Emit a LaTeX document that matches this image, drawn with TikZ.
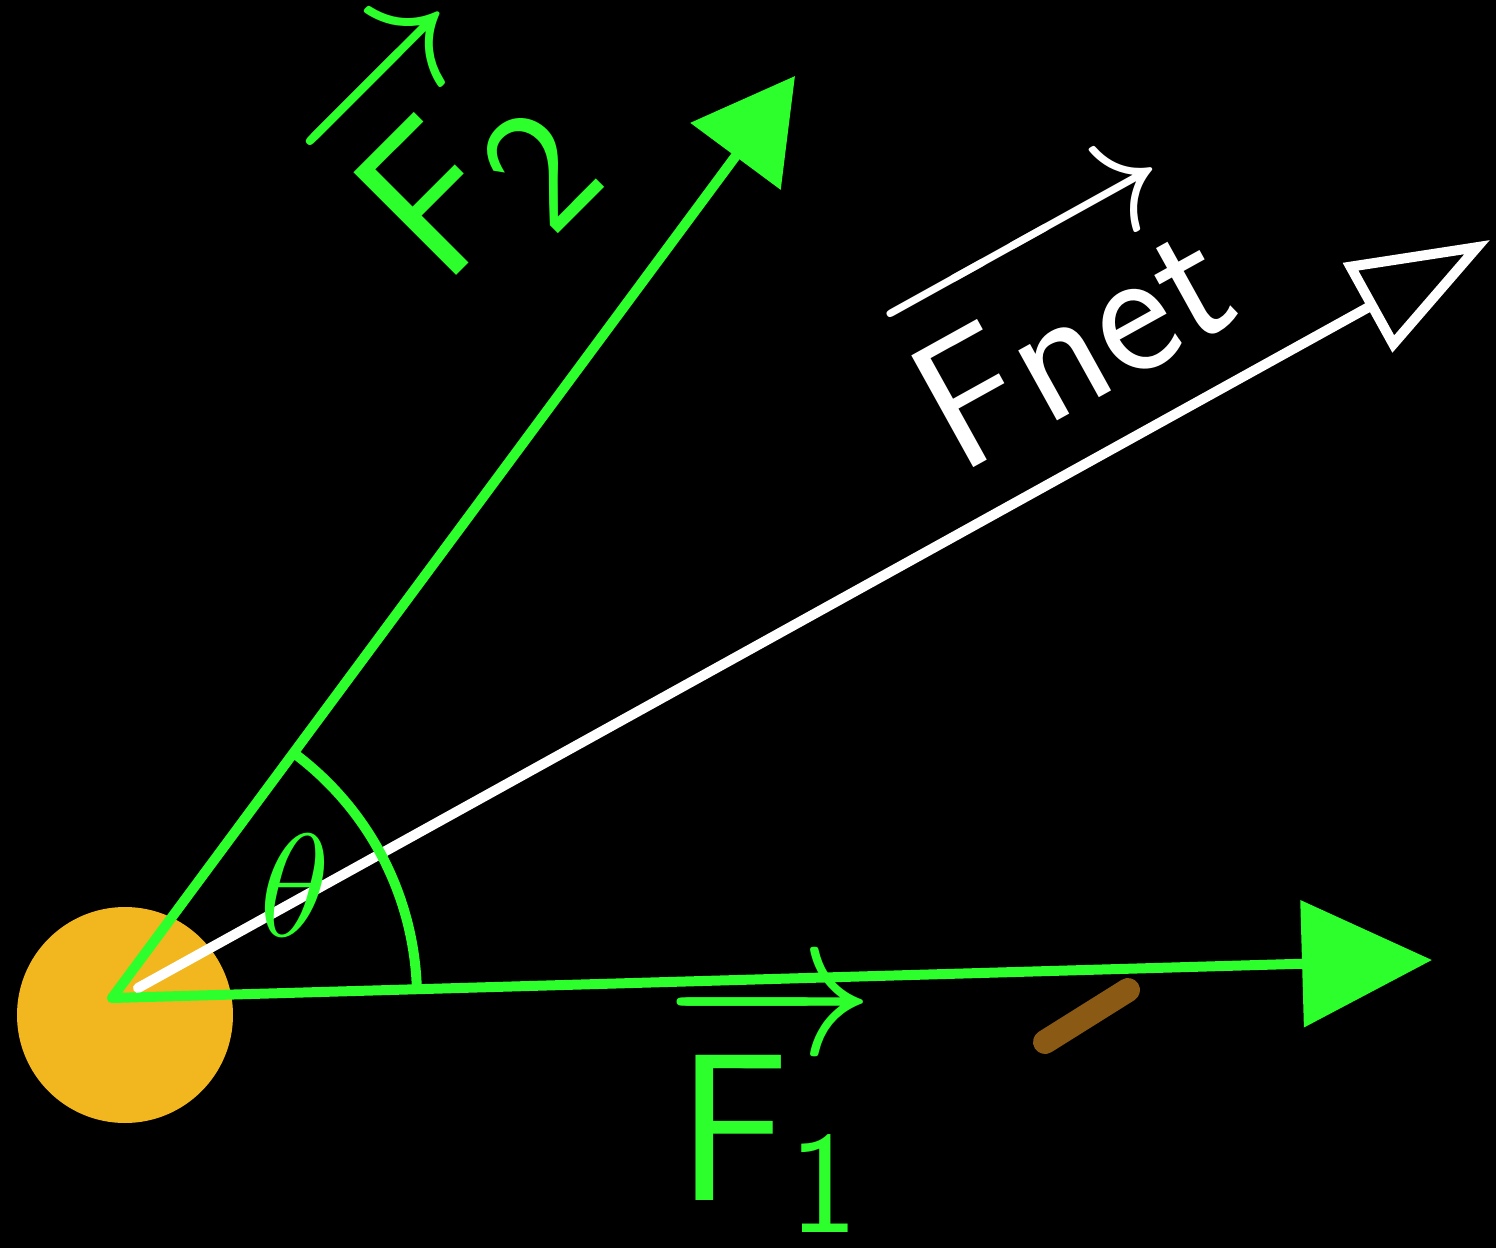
\documentclass[tikz,border=0pt]{standalone}
\usepackage{amsmath}
\usepackage{xcolor}
\definecolor{boardBack}  {HTML}{000000}
\definecolor{chalkGreen} {HTML}{2CFF2C}
\definecolor{ballFill}   {HTML}{F2B71E}
\definecolor{smudge}     {HTML}{8A5A14}
\usetikzlibrary{arrows.meta, calc}
\tikzset{
    ball/.style={circle, fill=ballFill, minimum size=21.6mm, inner sep=0pt},
    force/.style={line width=1mm, chalkGreen, line cap=round},
    netforce/.style={-{Triangle[open, length=14mm, width=10mm]},
                     line width=1mm, white, line cap=round},
    anglearc/.style={line width=1mm, chalkGreen},
    flabel/.style={font=\Huge, scale=2.4, inner sep=0pt,
                   text=chalkGreen},
    smudgeline/.style={line width=2.4mm, smudge, line cap=round},
}
\begin{document}
\begin{tikzpicture}
% --- board ---
\fill[boardBack] (0,0) rectangle (14.96,-12.48);
\useasboundingbox (0,0) rectangle (14.96,-12.48);

% --- body and force tips ---
\node[ball] (ball) at (1.25,-10.15) {};
\coordinate (o)      at (1.12,-9.98);
\coordinate (onet)   at (1.38,-9.88);
\coordinate (f1tip)  at (14.32,-9.60);
\coordinate (f2tip)  at (7.95,-0.76);
\coordinate (nettip) at (14.90,-2.40);

% --- forces ---
\draw[force, -{Triangle[length=13mm, width=12.5mm]}] (o) -- (f1tip);
\draw[force, -{Triangle[length=10mm, width=11mm]}] (o) -- (f2tip);
\draw[netforce] (onet) -- (nettip);

% --- angle between the two forces ---
\draw[anglearc] (o) ++(1.7:3.05) arc[start angle=1.7, end angle=53.5, radius=3.05];
\node[flabel, scale=0.7] (theta) at (2.95,-8.85) {$\theta$};

% --- labels ---
\node[flabel] (f1lbl) at (7.70,-11.05) {$\overrightarrow{\mathsf{F}_{\scriptscriptstyle\mathsf{1}}}$};
\node[flabel, rotate=45] (f2lbl) at (4.50,-1.55) {$\overrightarrow{\mathsf{F}_{\mathsf{2}}}$};
\node[flabel, scale=0.88, text=white, rotate=29] (netlbl) at (10.55,-3.10) {$\overrightarrow{\mathsf{Fnet}}$};

% --- stray mark ---
\coordinate (sm-a) at (10.45,-10.42);
\coordinate (sm-b) at (11.28,-9.90);
\draw[smudgeline] (sm-a) -- (sm-b);
\end{tikzpicture}
\end{document}
